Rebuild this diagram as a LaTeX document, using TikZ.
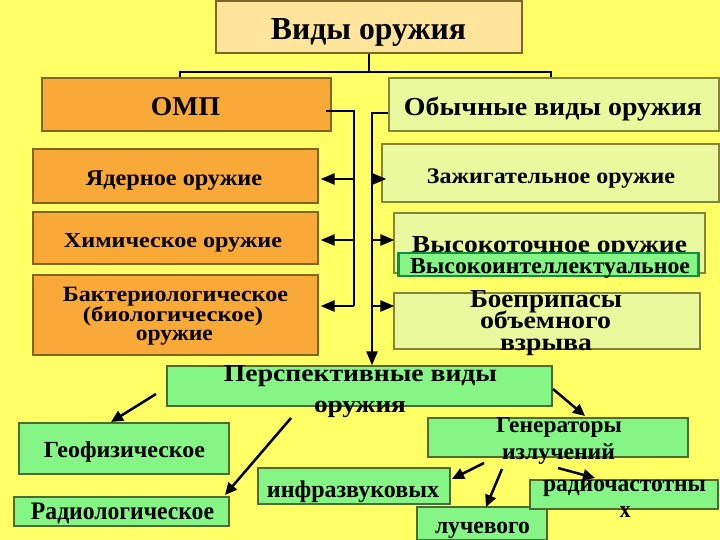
\documentclass[tikz,border=0pt]{standalone}
\usepackage{fontspec}
\setmainfont{Liberation Serif}
\usetikzlibrary{arrows.meta}
\definecolor{bg}{HTML}{FFFF66}
\definecolor{titlefill}{HTML}{FFE59C}
\definecolor{titledraw}{HTML}{7F6526}
\definecolor{orfill}{HTML}{F9A937}
\definecolor{ordraw}{HTML}{80652A}
\definecolor{lgfill}{HTML}{EAF99D}
\definecolor{lgdraw}{HTML}{85853A}
\definecolor{gfill}{HTML}{85F585}
\definecolor{gdraw}{HTML}{4D6B30}
\definecolor{hidraw}{HTML}{109040}
% line fitted to width w and height h
\newcommand{\tline}[6]{\node[txt] (#1) at (#2,#3) {\resizebox{#4pt}{#5pt}{#6}};}
% line of font size f fitted to width w
\newcommand{\tlinef}[6]{\node[txt] (#1) at (#2,#3) {\fontsize{#5}{#5}\selectfont\resizebox{#4pt}{\height}{#6}};}
\begin{document}
\begin{tikzpicture}[x=1pt,y=-1pt,
  box/.style={line width=1.3pt, inner sep=0pt, anchor=center},
  titlebox/.style={box, draw=titledraw, fill=titlefill},
  orbox/.style={box, draw=ordraw, fill=orfill},
  lgbox/.style={box, draw=lgdraw, fill=lgfill},
  gbox/.style={box, draw=gdraw, fill=gfill},
  hibox/.style={box, draw=hidraw, fill=gfill, line width=2.4pt},
  txt/.style={inner sep=0pt, anchor=base, font=\fontsize{20}{24}\selectfont\bfseries},
  conn/.style={line width=2.5pt, black},
  arr/.style={conn, -{Triangle[length=14pt,width=11pt]}},
  sarr/.style={conn, -{Triangle[length=12pt,width=11pt]}}
]
\fill[bg] (0,0) rectangle (720,540);
\useasboundingbox (0,0) rectangle (720,540);

% boxes
\node[titlebox, minimum width=306pt, minimum height=52pt] (title) at (369,27) {};
\node[orbox, minimum width=289pt, minimum height=53pt] (omp) at (186.5,104.5) {};
\node[lgbox, minimum width=330pt, minimum height=53pt] (obych) at (554,104.5) {};
\node[orbox, minimum width=285pt, minimum height=54pt] (yad) at (175.5,176) {};
\node[orbox, minimum width=285pt, minimum height=52pt] (chem) at (175.5,238) {};
\node[orbox, minimum width=285pt, minimum height=80pt] (bact) at (175.5,315) {};
\node[lgbox, minimum width=337pt, minimum height=58pt] (zaj) at (550.5,173) {};
\node[lgbox, minimum width=311pt, minimum height=60pt] (vt) at (549.5,243) {};
\node[lgbox, minimum width=306pt, minimum height=56pt] (boe) at (547,321) {};
\node[gbox, minimum width=385pt, minimum height=40pt] (persp) at (359.5,386) {};
\node[gbox, minimum width=210pt, minimum height=51pt] (geo) at (124,448.5) {};
\node[gbox, minimum width=215pt, minimum height=29pt] (rad) at (121.5,511.5) {};
\node[gbox, minimum width=260pt, minimum height=39pt] (gen) at (558,437.5) {};
\node[gbox, minimum width=192pt, minimum height=36pt] (infra) at (354,486) {};
\node[gbox, minimum width=130pt, minimum height=33pt] (luch) at (482,523.5) {};
\node[gbox, minimum width=188pt, minimum height=29pt] (radio) at (624,494.5) {};

% texts
\tline{titlet}{368.5}{39.5}{195}{21}{Виды оружия}
\tline{ompt}{185.5}{115.5}{69}{18}{ОМП}
\tline{obycht}{553}{115.5}{298}{18.5}{Обычные виды оружия}
\tline{yadt}{174}{185.7}{176}{14.7}{Ядерное оружие}
\tline{chemt}{173}{247.3}{218}{14}{Химическое оружие}
\tline{bactt1}{175.5}{301}{225}{14.3}{Бактериологическое}
\tline{bactt2}{173}{321.7}{180}{15}{(биологическое)}
\tlinef{bactt3}{174.3}{340}{77}{22}{оружие}
\tline{zajt}{551}{183.5}{248}{14.7}{Зажигательное оружие}
\tline{vtt}{549.5}{253}{275}{16}{Высокоточное оружие}
\node[hibox, minimum width=300pt, minimum height=23pt] (hi) at (548.5,264.5) {};
\tline{hit}{550}{273}{280}{15}{Высокоинтеллектуальное}
\tline{boet1}{546}{307}{152}{17}{Боеприпасы}
\tlinef{boet2}{545.5}{328}{131}{24.5}{объемного}
\tlinef{boet3}{546}{350}{92}{24.5}{взрыва}
\tline{perspt1}{360.5}{381}{273}{16}{Перспективные виды}
\tlinef{perspt2}{360}{412}{92}{24}{оружия}
\tline{geot}{124.5}{457.5}{161}{16}{Геофизическое}
\tline{radt}{122.5}{519.5}{183}{16.5}{Радиологическое}
\tline{gent1}{559}{432}{126}{15}{Генераторы}
\tlinef{gent2}{558.5}{459.3}{113}{23}{излучений}
\tlinef{infrat}{353}{497}{172}{24}{инфразвуковых}
\tlinef{lucht}{482.5}{533.3}{95}{24}{лучевого}
\tlinef{radiot1}{624.5}{491.7}{163}{24}{радиочастотны}
\tlinef{radiot2}{625.3}{517.3}{10.7}{24}{х}

% top bracket
\coordinate (brL) at (180,72);
\coordinate (brR) at (551,72);
\draw[conn, line width=2pt] (title.south) -- (title.south |- brL);
\draw[conn, line width=2pt] (omp.north -| brL) -- (brL) -- (brR) -- (obych.north -| brR);

% OMP trunk
\coordinate (ompS) at (326,111);
\coordinate (ompJ) at (354,111);
\coordinate (ompE) at (354,306);
\draw[conn] (ompS) -- (ompJ) -- (ompE);
\coordinate (oa1) at (354,179);
\coordinate (oa2) at (354,240);
\draw[arr] (oa1) -- ([xshift=2pt]oa1 -| yad.east);
\draw[arr] (oa2) -- ([xshift=2pt]oa2 -| chem.east);
\draw[arr] (ompE) -- ([xshift=2pt]ompE -| bact.east);

% conventional trunk
\coordinate (obJ) at (372,113);
\draw[arr] (obych.west |- obJ) -- (obJ) -- (obJ |- persp.north);
\coordinate (ra1) at (372,179);
\coordinate (ra2) at (372,240);
\coordinate (ra3) at (372,306);
\draw[arr] (ra1) -- ([xshift=5pt]ra1 -| zaj.west);
\draw[arr] (ra2) -- ([xshift=1pt]ra2 -| vt.west);
\draw[arr] (ra3) -- ([xshift=1pt]ra3 -| boe.west);

% prospective arrows
\coordinate (pg1) at (156,394); \coordinate (pg2) at (111,422);
\coordinate (pr1) at (291,418); \coordinate (pr2) at (225,495);
\coordinate (pn1) at (553,389); \coordinate (pn2) at (585,416);
\draw[sarr] (pg1) -- (pg2);
\draw[sarr] (pr1) -- (pr2);
\draw[sarr] (pn1) -- (pn2);

% generator arrows
\coordinate (gi1) at (484,463); \coordinate (gi2) at (452,479);
\coordinate (gl1) at (502,469); \coordinate (gl2) at (486,507);
\coordinate (gr1) at (558,468); \coordinate (gr2) at (595,478);
\draw[sarr] (gi1) -- (gi2);
\draw[sarr] (gl1) -- (gl2);
\draw[sarr] (gr1) -- (gr2);
\end{tikzpicture}
\end{document}
